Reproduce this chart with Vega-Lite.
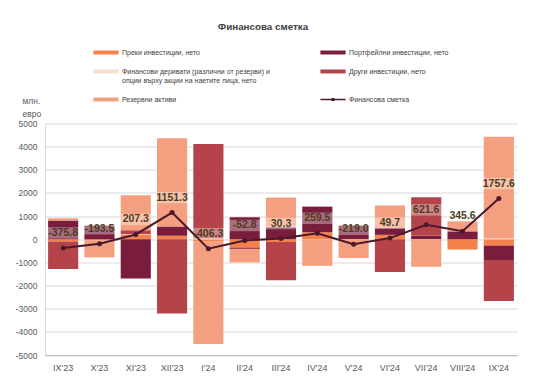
{
  "$schema": "https://vega.github.io/schema/vega-lite/v6.json",
  "width": 472,
  "height": 231.5,
  "autosize": {"type": "none"},
  "padding": {"left": 45, "top": 123.5, "right": 20, "bottom": 30},
  "background": "white",
  "title": {"text": "Финансова сметка", "anchor": "middle", "dx": -18, "offset": 12, "fontSize": 9.8, "font": "Liberation Sans, Arial", "fontWeight": "bold", "color": "#404040"},
  "config": {"view": {"stroke": null}, "font": "Liberation Sans Narrow, Liberation Sans, Arial"},
  "datasets": {
    "bars": [
      {"month": "IX'23", "series": "Преки инвестиции, нето", "value": -100},
      {"month": "IX'23", "series": "Портфейлни инвестиции, нето", "value": 810},
      {"month": "IX'23", "series": "Други инвестиции, нето", "value": -1186},
      {"month": "IX'23", "series": "Резервни активи", "value": 100},
      {"month": "X'23", "series": "Преки инвестиции, нето", "value": -50},
      {"month": "X'23", "series": "Портфейлни инвестиции, нето", "value": 590},
      {"month": "X'23", "series": "Резервни активи", "value": -735},
      {"month": "XI'23", "series": "Преки инвестиции, нето", "value": 200},
      {"month": "XI'23", "series": "Портфейлни инвестиции, нето", "value": -1700},
      {"month": "XI'23", "series": "Финансови деривати (различни от резерви) и опции върху акции на наетите лица, нето", "value": 20},
      {"month": "XI'23", "series": "Други инвестиции, нето", "value": 170},
      {"month": "XI'23", "series": "Резервни активи", "value": 1515},
      {"month": "XII'23", "series": "Преки инвестиции, нето", "value": 150},
      {"month": "XII'23", "series": "Портфейлни инвестиции, нето", "value": 400},
      {"month": "XII'23", "series": "Други инвестиции, нето", "value": -3210},
      {"month": "XII'23", "series": "Резервни активи", "value": 3810},
      {"month": "I'24", "series": "Преки инвестиции, нето", "value": -100},
      {"month": "I'24", "series": "Финансови деривати (различни от резерви) и опции върху акции на наетите лица, нето", "value": 30},
      {"month": "I'24", "series": "Други инвестиции, нето", "value": 4080},
      {"month": "I'24", "series": "Резервни активи", "value": -4420},
      {"month": "II'24", "series": "Преки инвестиции, нето", "value": -350},
      {"month": "II'24", "series": "Портфейлни инвестиции, нето", "value": 950},
      {"month": "II'24", "series": "Други инвестиции, нето", "value": -90},
      {"month": "II'24", "series": "Резервни активи", "value": -560},
      {"month": "III'24", "series": "Преки инвестиции, нето", "value": -120},
      {"month": "III'24", "series": "Портфейлни инвестиции, нето", "value": 520},
      {"month": "III'24", "series": "Финансови деривати (различни от резерви) и опции върху акции на наетите лица, нето", "value": 30},
      {"month": "III'24", "series": "Други инвестиции, нето", "value": -1650},
      {"month": "III'24", "series": "Резервни активи", "value": 1250},
      {"month": "IV'24", "series": "Преки инвестиции, нето", "value": 300},
      {"month": "IV'24", "series": "Портфейлни инвестиции, нето", "value": 1110},
      {"month": "IV'24", "series": "Резервни активи", "value": -1150},
      {"month": "V'24", "series": "Портфейлни инвестиции, нето", "value": 590},
      {"month": "V'24", "series": "Резервни активи", "value": -810},
      {"month": "VI'24", "series": "Преки инвестиции, нето", "value": 190},
      {"month": "VI'24", "series": "Портфейлни инвестиции, нето", "value": 290},
      {"month": "VI'24", "series": "Други инвестиции, нето", "value": -1410},
      {"month": "VI'24", "series": "Резервни активи", "value": 980},
      {"month": "VII'24", "series": "Портфейлни инвестиции, нето", "value": 150},
      {"month": "VII'24", "series": "Други инвестиции, нето", "value": 1660},
      {"month": "VII'24", "series": "Резервни активи", "value": -1190},
      {"month": "VIII'24", "series": "Преки инвестиции, нето", "value": -445},
      {"month": "VIII'24", "series": "Портфейлни инвестиции, нето", "value": 340},
      {"month": "VIII'24", "series": "Резервни активи", "value": 450},
      {"month": "IX'24", "series": "Преки инвестиции, нето", "value": -275},
      {"month": "IX'24", "series": "Портфейлни инвестиции, нето", "value": -620},
      {"month": "IX'24", "series": "Финансови деривати (различни от резерви) и опции върху акции на наетите лица, нето", "value": 30},
      {"month": "IX'24", "series": "Други инвестиции, нето", "value": -1770},
      {"month": "IX'24", "series": "Резервни активи", "value": 4395}
    ],
    "total": [
      {"month": "IX'23", "value": -375.8, "label": "-375.8"},
      {"month": "X'23", "value": -193.5, "label": "-193.5"},
      {"month": "XI'23", "value": 207.3, "label": "207.3"},
      {"month": "XII'23", "value": 1151.3, "label": "1151.3"},
      {"month": "I'24", "value": -406.3, "label": "-406.3"},
      {"month": "II'24", "value": -52.8, "label": "-52.8"},
      {"month": "III'24", "value": 30.3, "label": "30.3"},
      {"month": "IV'24", "value": 259.5, "label": "259.5"},
      {"month": "V'24", "value": -219.0, "label": "-219.0"},
      {"month": "VI'24", "value": 49.7, "label": "49.7"},
      {"month": "VII'24", "value": 621.6, "label": "621.6"},
      {"month": "VIII'24", "value": 345.6, "label": "345.6"},
      {"month": "IX'24", "value": 1757.6, "label": "1757.6"}
    ]
  },
  "encoding": {
    "x": {
      "field": "month", "type": "nominal",
      "scale": {"domain": ["IX'23", "X'23", "XI'23", "XII'23", "I'24", "II'24", "III'24", "IV'24", "V'24", "VI'24", "VII'24", "VIII'24", "IX'24"], "paddingInner": 0.17, "paddingOuter": 0.085},
      "axis": {"title": null, "labelAngle": 0, "ticks": false, "domainColor": "#BFBFBF", "labelColor": "#595959", "labelFontSize": 9, "labelPadding": 8, "grid": false}
    },
    "y": {
      "field": "value", "type": "quantitative",
      "scale": {"domain": [-5000, 5000], "nice": false},
      "axis": {"values": [-5000, -4000, -3000, -2000, -1000, 0, 1000, 2000, 3000, 4000, 5000], "labelExpr": "'' + datum.value", "grid": true, "gridColor": "#D9D9D9", "domainColor": "#D9D9D9", "ticks": false, "labelFontSize": 8.5, "labelColor": "#595959", "labelPadding": 8, "title": ["млн.", "евро"], "titleAngle": 0, "titleX": -23, "titleY": -20.5, "titleAlign": "left", "titleBaseline": "alphabetic", "titleFontWeight": "normal", "titleFontSize": 8.5, "titleColor": "#595959", "titleLineHeight": 13}
    }
  },
  "layer": [
    {
      "data": {"name": "bars"},
      "transform": [{"calculate": "indexof(['Преки инвестиции, нето', 'Портфейлни инвестиции, нето', 'Финансови деривати (различни от резерви) и опции върху акции на наетите лица, нето', 'Други инвестиции, нето', 'Резервни активи'], datum.series)", "as": "seriesOrder"}],
      "mark": {"type": "bar"},
      "encoding": {
        "y": {"field": "value", "type": "quantitative", "stack": "zero"},
        "order": {"field": "seriesOrder", "type": "quantitative", "sort": "ascending"},
        "color": {
          "field": "series", "type": "nominal",
          "scale": {
            "domain": ["Преки инвестиции, нето", "Финансови деривати (различни от резерви) и опции върху акции на наетите лица, нето", "Резервни активи", "Портфейлни инвестиции, нето", "Други инвестиции, нето", "Финансова сметка"],
            "range": ["#F4804A", "#F6E0CA", "#F4A080", "#7A1C3C", "#B5434A", "#4A1A2C"]
          },
          "legend": {
            "orient": "none", "legendX": 52, "legendY": -80, "columns": 2, "title": null, "padding": 0,
            "symbolType": "M-1.4,-0.22H1.4V0.22H-1.4Z", "symbolSize": 324, "symbolStrokeWidth": 0,
            "labelFontSize": 7, "labelColor": "#404040", "labelLimit": 300, "labelOffset": 7,
            "columnPadding": 50, "rowPadding": 7,
            "labelExpr": "indexof(datum.label, 'Финансови') == 0 ? ['Финансови деривати (различни от резерви) и', 'опции върху акции на наетите лица, нето'] : datum.label",
            "encode": {"symbols": {"update": {"shape": {"signal": "datum.value === 'Финансова сметка' ? 'M-1.4,-0.07H1.4V0.07H-1.4Z M-0.17,-0.17H0.17V0.17H-0.17Z' : 'M-1.4,-0.22H1.4V0.22H-1.4Z'"}}}}
          }
        }
      }
    },
    {
      "data": {"name": "total"},
      "mark": {"type": "point", "shape": "M-1,-0.37H1V0.37H-1Z", "size": 961, "filled": true, "fill": "white", "fillOpacity": 0.35, "strokeWidth": 0, "yOffset": -15},
      "encoding": {"y": {"field": "value", "type": "quantitative"}}
    },
    {
      "data": {"name": "total"},
      "mark": {"type": "line", "strokeWidth": 2, "point": {"filled": true, "size": 25}},
      "encoding": {"y": {"field": "value", "type": "quantitative"}, "color": {"datum": "Финансова сметка"}}
    },
    {
      "data": {"name": "total"},
      "mark": {"type": "text", "dy": -15, "fontSize": 10.5, "fontWeight": "bold", "color": "#4C3D1C", "baseline": "middle"},
      "encoding": {"y": {"field": "value", "type": "quantitative"}, "text": {"field": "label"}}
    }
  ]
}
